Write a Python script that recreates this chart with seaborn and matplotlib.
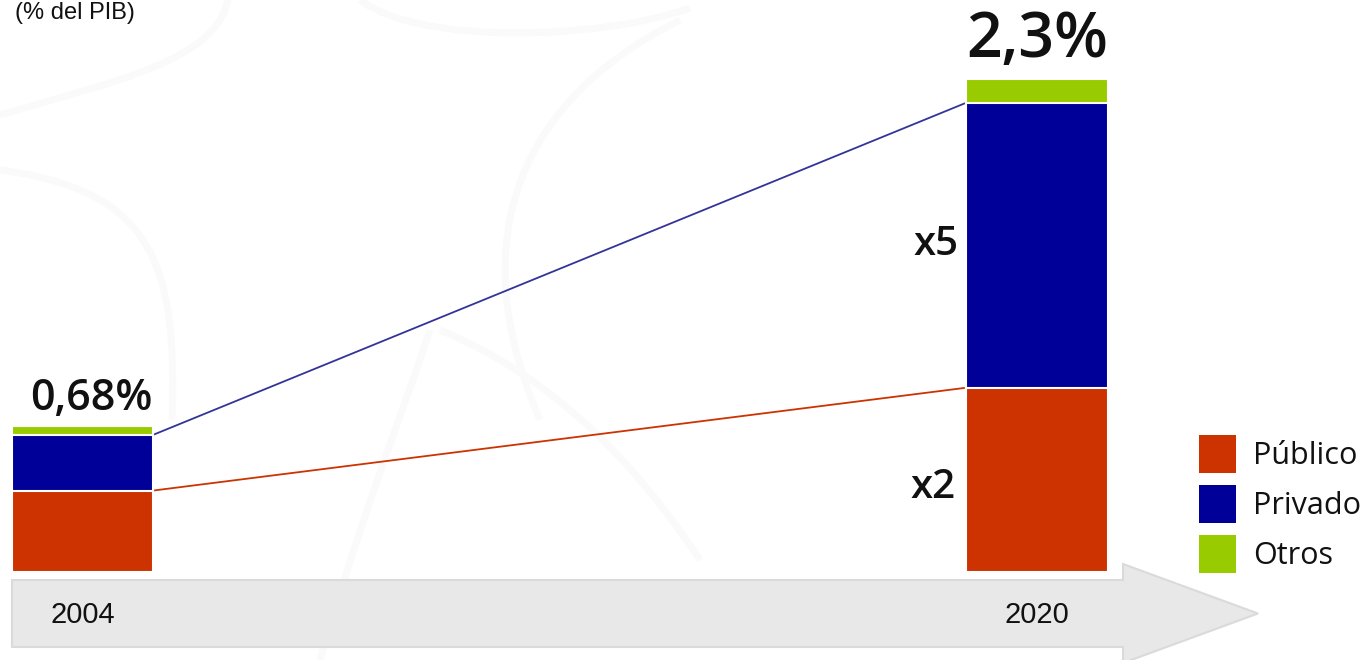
import numpy as np
import pandas as pd
import matplotlib
matplotlib.use("Agg")
import matplotlib.pyplot as plt
import seaborn as sns
from matplotlib.patches import Polygon, Patch
from matplotlib.path import Path
from matplotlib.patches import PathPatch
from matplotlib.transforms import blended_transform_factory

# ---------------- data ----------------
years = ["2004", "2020"]
publico = [0.38, 0.86]
privado = [0.26, 1.33]
otros = [0.04, 0.11]
total_labels = ["0,68%", "2,3%"]
series = ["Público", "Privado", "Otros"]
growth_labels = ["x2", "x5"]   # Público, Privado growth 2004 -> 2020
unit_label = "(% del PIB)"

# ---------------- style ----------------
colors = {"Público": "#CC3300", "Privado": "#000099", "Otros": "#99CC00"}
W, H = 1366, 660
sns.set_theme(style="white")
plt.rcParams["font.family"] = ["Open Sans", "DejaVu Sans"]
TXT = "#111111"

def fx(px):
    return px / W

def fy(py):
    return 1 - py / H

fig = plt.figure(figsize=(W / 100, H / 100), dpi=100)
fig.patch.set_facecolor("white")
ax = fig.add_axes([0, 0, 1, 1])
ax.set_facecolor("white")

# faint decorative background swirls
swirls = [
    [(0, 115), (120, 80), (215, 60), (228, 0)],
    [(0, 170), (150, 190), (178, 260), (172, 420)],
    [(360, 0), (420, 45), (600, 40), (690, 8)],
    [(680, 20), (500, 110), (470, 260), (540, 420)],
    [(320, 660), (360, 520), (400, 420), (430, 330)],
    [(440, 330), (560, 380), (640, 470), (700, 560)],
]
for s in swirls:
    verts = [(fx(x), fy(y)) for x, y in s]
    p = PathPatch(Path(verts, [Path.MOVETO, Path.CURVE4, Path.CURVE4, Path.CURVE4]),
                  transform=fig.transFigure, facecolor="none", edgecolor="#FAFAFA",
                  lw=5, zorder=0, clip_on=False)
    ax.add_patch(p)

df = pd.DataFrame({"year": years, "Público": publico, "Privado": privado, "Otros": otros})
df["c1"] = df["Público"]
df["c2"] = df["c1"] + df["Privado"]
df["c3"] = df["c2"] + df["Otros"]

bw = 0.148
for col, name in [("c3", "Otros"), ("c2", "Privado"), ("c1", "Público")]:
    sns.barplot(data=df, x="year", y=col, color=colors[name], width=bw,
                edgecolor="white", linewidth=1.5, errorbar=None, ax=ax,
                saturation=1, zorder=3)

ppu = 214.3
ax.set_xlim(-82.5 / 954.5, (W - 82.5) / 954.5)
ax.set_ylim(-(H - 572) / ppu, 572 / ppu)
ax.axis("off")

# connector lines between bar tops
xs = [0 + bw / 2, 1 - bw / 2]
ax.plot(xs, df["c2"], color="#333399", lw=1.3, zorder=2)
ax.plot(xs, df["c1"], color="#CC3300", lw=1.3, zorder=2)

# timeline arrow
pts = [(12, 580), (1123, 580), (1123, 564), (1258, 613.5), (1123, 663), (1123, 647), (12, 647)]
arrow = Polygon([(fx(x), fy(y)) for x, y in pts], closed=True, transform=fig.transFigure,
                facecolor="#E8E8E8", edgecolor="#DADADA", lw=1.5, zorder=1, clip_on=False)
ax.add_patch(arrow)

bt = blended_transform_factory(ax.transData, fig.transFigure)
for i, y in enumerate(years):
    ax.text(i, fy(615), y, transform=bt, ha="center", va="center", fontsize=21,
            family=["Liberation Sans", "DejaVu Sans"], color=TXT, zorder=4)

# totals
tot_sizes = [31, 45]
tot_off = [(6, 12), (0, 16)]
for i, lab in enumerate(total_labels):
    ax.annotate(lab, xy=(i, df["c3"][i]), xytext=tot_off[i], textcoords="offset points",
                ha="center", va="baseline", fontsize=tot_sizes[i], fontweight="semibold",
                color=TXT, zorder=4)

# growth labels on 2020 bar
ax.annotate(growth_labels[0], xy=(1 - bw / 2, df["c1"][1] / 2), xytext=(-8, -6),
            textcoords="offset points", ha="right", va="center", fontsize=29,
            fontweight="semibold", color=TXT)
ax.annotate(growth_labels[1], xy=(1 - bw / 2, df["c1"][1] + df["Privado"][1] / 2), xytext=(-6, 0),
            textcoords="offset points", ha="right", va="center", fontsize=29,
            fontweight="semibold", color=TXT)

fig.text(fx(15), fy(19), unit_label, ha="left", va="baseline", fontsize=17,
         family=["Liberation Sans", "DejaVu Sans"], color=TXT)

fs = 22
fpx = fs * 100 / 72
hh = (38 / fpx - 0.245) / 0.65
handles = [Patch(facecolor=colors[s], edgecolor="none") for s in series]
fig.legend(handles, series, loc="upper left", bbox_to_anchor=(fx(1199), fy(435)),
           frameon=False, fontsize=fs, handlelength=37 / fpx, handleheight=hh,
           labelspacing=12 / fpx, handletextpad=0.55, borderpad=0, borderaxespad=0,
           labelcolor=TXT)

fig.savefig("out.png", dpi=100)
